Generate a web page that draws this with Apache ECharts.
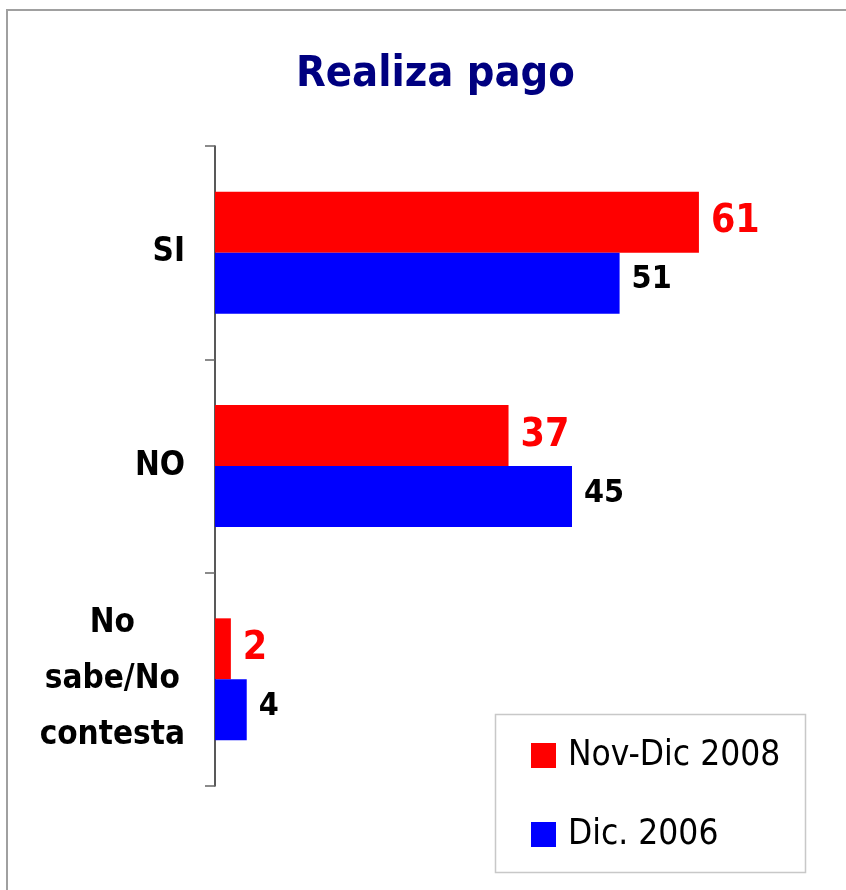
<!DOCTYPE html>
<html>
<head>
<meta charset="utf-8">
<title>Realiza pago</title>
<script src="https://cdn.jsdelivr.net/npm/echarts@6/dist/echarts.min.js"></script>
<style>
  html, body { margin: 0; padding: 0; background: #fff; }
  #chart { width: 846px; height: 890px; }
</style>
</head>
<body>
<div id="chart"></div>
<script>
// datos de la grafica
const categorias = ['SI', 'NO', 'No\nsabe/No\ncontesta'];
const serie2008 = [61, 37, 2];
const serie2006 = [51, 45, 4];
const nombres = ['Nov-Dic 2008', 'Dic. 2006'];

const fuente = "'DejaVu Sans Condensed', 'DejaVu Sans', sans-serif";

const myChart = echarts.init(document.getElementById('chart'));

const option = {
  backgroundColor: '#fff',
  animation: false,
  title: {
    text: 'Realiza pago',
    left: 296,
    top: 53,
    padding: 0,
    textStyle: {
      color: '#000080',
      fontSize: 43,
      fontWeight: 'bold',
      fontFamily: fuente
    }
  },
  // marco exterior y caja de la leyenda
  graphic: [
    {
      type: 'rect',
      shape: { x: 7, y: 10, width: 1000, height: 1000 },
      style: { fill: 'none', stroke: '#a0a0a0', lineWidth: 2 },
      silent: true
    },
    {
      type: 'rect',
      shape: { x: 495.5, y: 714.5, width: 310, height: 158 },
      style: { fill: 'none', stroke: '#c8c8c8', lineWidth: 1.5 },
      silent: true
    }
  ],
  legend: {
    orient: 'vertical',
    left: 531,
    top: 738,
    padding: 0,
    itemWidth: 25,
    itemHeight: 25,
    itemGap: 44,
    icon: 'rect',
    data: nombres,
    textStyle: {
      fontSize: 35,
      color: '#000',
      fontFamily: fuente,
      padding: [0, 0, 0, 7]
    }
  },
  grid: {
    left: 215,
    right: 36,
    top: 146,
    bottom: 104
  },
  xAxis: {
    type: 'value',
    min: 0,
    max: 75,
    show: false
  },
  yAxis: {
    type: 'category',
    inverse: true,
    data: categorias,
    axisLine: { show: true, lineStyle: { color: '#222', width: 1.5 } },
    axisTick: { show: true, length: 10, lineStyle: { color: '#666', width: 1.5 } },
    axisLabel: {
      margin: 30,
      formatter: function (v) {
        return v.split('\n').map(function (l) { return '{c|' + l + '}'; }).join('\n');
      },
      rich: {
        c: {
          align: 'center',
          fontSize: 33,
          fontWeight: 'bold',
          lineHeight: 56,
          color: '#000',
          fontFamily: fuente
        }
      }
    }
  },
  series: [
    {
      name: nombres[0],
      type: 'bar',
      data: serie2008,
      barWidth: 61,
      barGap: '0%',
      itemStyle: { color: '#ff0000' },
      label: {
        show: true,
        position: 'right',
        distance: 12,
        offset: [0, 0],
        color: '#ff0000',
        fontSize: 39,
        fontWeight: 'bold',
        fontFamily: fuente
      }
    },
    {
      name: nombres[1],
      type: 'bar',
      data: serie2006,
      barWidth: 61,
      barGap: '0%',
      itemStyle: { color: '#0000ff' },
      label: {
        show: true,
        position: 'right',
        distance: 12,
        offset: [0, -3],
        color: '#000',
        fontSize: 32,
        fontWeight: 'bold',
        fontFamily: fuente
      }
    }
  ]
};

option && myChart.setOption(option);
</script>
</body>
</html>
